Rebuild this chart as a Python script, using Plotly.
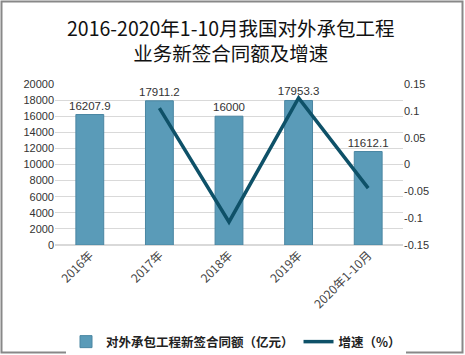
import plotly.graph_objects as go

categories = ["2016年", "2017年", "2018年", "2019年", "2020年1-10月"]
contract_values = [16207.9, 17911.2, 16000, 17953.3, 11612.1]
value_labels = ["16207.9", "17911.2", "16000", "17953.3", "11612.1"]
growth_cats = ["2017年", "2018年", "2019年", "2020年1-10月"]
growth_values = [0.105, -0.107, 0.124, -0.044]

left_ticks = list(range(0, 20001, 2000))
right_ticks = [-0.15, -0.1, -0.05, 0, 0.05, 0.1, 0.15]
right_ticktext = ["-0.15", "-0.1", "-0.05", "0", "0.05", "0.1", "0.15"]

W, H = 465, 355
ml, mr, mt, mb = 55, 62, 84, 110
pw, ph = W - ml - mr, H - mt - mb


def px_x(p):
    return (p - ml) / pw


def px_y(p):
    return (H - mb - p) / ph


fig = go.Figure()
fig.add_trace(go.Bar(
    x=categories, y=contract_values, name="<b>对外承包工程新签合同额（亿元）</b>",
    marker=dict(color="#5a9bb8", line=dict(color="#4a86a2", width=1)),
    width=0.4, text=value_labels, textposition="outside",
    constraintext="none",
    textfont=dict(size=11.5, color="#333333", family="Liberation Sans, Arial"),
    cliponaxis=False,
))
fig.add_trace(go.Scatter(
    x=growth_cats, y=growth_values, name="<b>增速（%）</b>", yaxis="y2",
    mode="lines", line=dict(color="#0e5168", width=3.5),
))

fig.update_layout(
    width=W, height=H,
    margin=dict(l=ml, r=mr, t=mt, b=mb, autoexpand=False),
    paper_bgcolor="white", plot_bgcolor="white",
    annotations=[
        dict(text="2016-2020年1-10月我国对外承包工程<br>业务新签合同额及增速",
             xref="paper", yref="paper",
             x=px_x(231), y=px_y(40), xanchor="center",
             yanchor="middle", showarrow=False, align="center",
             font=dict(size=19.5, color="#111111", family="Noto Sans CJK SC")),
    ],
    xaxis=dict(type="category", tickangle=-45, showgrid=False, showline=False,
               automargin=False,
               tickfont=dict(size=12, color="#444444", family="Noto Sans CJK SC")),
    yaxis=dict(range=[0, 20000], tickvals=left_ticks, tickformat="d", showgrid=True,
               automargin=False,
               gridcolor="#d9d9d9", zeroline=True, zerolinecolor="#d9d9d9",
               tickfont=dict(size=11, color="#333333", family="Liberation Sans, Arial")),
    yaxis2=dict(range=[-0.15, 0.15], tickvals=right_ticks, ticktext=right_ticktext,
                overlaying="y", side="right", showgrid=False, zeroline=False,
                automargin=False,
                tickfont=dict(size=11, color="#333333", family="Liberation Sans, Arial")),
    legend=dict(orientation="h", x=px_x(236), xanchor="center",
                y=px_y(327), yanchor="top",
                font=dict(size=12.5, color="#222222", family="Noto Sans CJK SC"),
                itemwidth=30),
    bargap=0.6,
    shapes=[dict(type="rect", xref="paper", yref="paper",
                 x0=px_x(1.5), x1=px_x(W - 2.5),
                 y0=px_y(H - 2.5), y1=px_y(1.5),
                 line=dict(color="#888888", width=2))],
)

fig.write_html("out.html", config={"displayModeBar": False},
               post_script="document.body.style.margin='0';")
